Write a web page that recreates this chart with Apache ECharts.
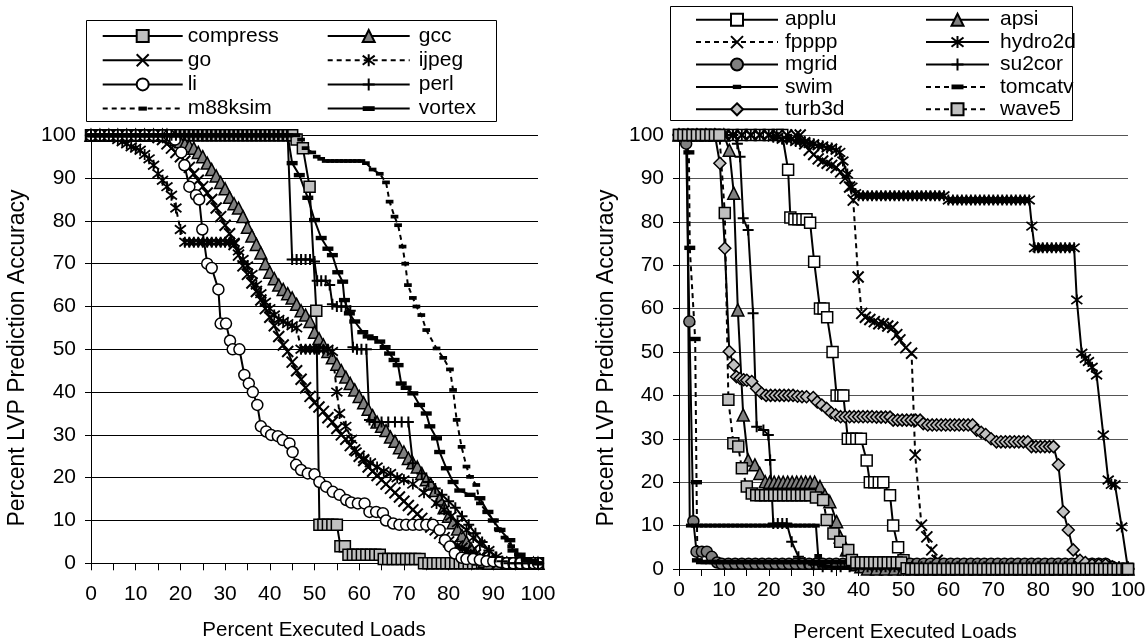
<!DOCTYPE html>
<html><head><meta charset="utf-8">
<script src="https://cdn.jsdelivr.net/npm/echarts@6/dist/echarts.min.js"></script>
<style>html,body{margin:0;padding:0;background:#fff}#c{width:1146px;height:642px}</style>
</head><body><div id="c"></div>
<script>
const FONT = "'Liberation Sans', Arial, Helvetica, sans-serif";
const xTickLabels = [0,10,20,30,40,50,60,70,80,90,100];
const yTickLabels = [0,10,20,30,40,50,60,70,80,90,100];

// ---------- left chart (integer benchmarks) ----------
const compress = [[0,100],[1,100],[2,100],[3,100],[4,100],[5,100],[6,100],[7,100],[8,100],[9,100],[10,100],[11,100],[12,100],[13,100],[14,100],[15,100],[16,100],[17,100],[18,100],[19,100],[20,100],[21,100],[22,100],[23,100],[24,100],[25,100],[26,100],[27,100],[28,100],[29,100],[30,100],[31,100],[32,100],[33,100],[34,100],[35,100],[36,100],[37,100],[38,100],[39,100],[40,100],[41,100],[42,100],[43,100],[44,100],[45,100],[46,99],[47.4,97],[48.9,88],[50.4,59],[51.1,9],[52,9],[53,9],[54,9],[55,9],[55.8,4],[56.8,4],[57.6,2],[58.6,2],[59.6,2],[60.6,2],[61.6,2],[62.6,2],[63.6,2],[64.6,2],[65.5,1],[66.5,1],[67.5,1],[68.5,1],[69.5,1],[70.5,1],[71.5,1],[72.5,1],[73.5,1],[74.5,0],[75.5,0],[76.5,0],[77.5,0],[78.5,0],[79.5,0],[80.5,0],[81.5,0],[82.5,0],[83.5,0],[84.5,0],[85.5,0],[86.5,0],[87.5,0],[88.5,0],[89.5,0],[90.5,0],[91.5,0],[92.5,0],[93.5,0],[94.5,0],[95.5,0],[96.5,0],[97.5,0],[98.5,0],[99.5,0],[100,0]];
const gcc = [[0,100],[2,100],[4,100],[6,100],[8,100],[10,100],[12,100],[14,100],[16,100],[17,100],[18,99.5],[19,99],[20,98.5],[21,98],[22,97.5],[23,97],[24,96],[25,95],[26,93.5],[27,92],[28,90.5],[29,89],[30,87.5],[31,85.5],[32,84],[33,83],[34,81],[35,78.5],[36,76.5],[37,74.5],[38,72.5],[39,70],[40,68],[41,66.5],[42,65],[43,64],[44,63],[45,62],[46,60.5],[47,59],[48,58],[49,56.5],[50,54],[51,52.5],[52,51],[53,49.5],[54,48],[55,46.5],[56,45],[57,43.5],[58,42],[59,40.5],[60,39],[61,37.5],[62,36],[63,34.5],[64,33],[65,32],[66,31],[67,29.5],[68,28.5],[69,27],[70,26],[71,24.5],[72,23.5],[73,22.5],[74,21],[75,19.5],[76,18.5],[77,17],[78,15],[79,13],[80,11],[81,9.5],[82,8],[83,6.5],[84,5],[85,3.5],[86,2],[87,1],[88,0.5],[89,0],[91,0],[93,0],[95,0],[97,0],[99,0],[100,0]];
const go = [[0,100],[2,100],[4,100],[6,100],[8,100],[10,100],[12,100],[14,100],[15,99.5],[16,99],[17,98],[18,97],[19,96],[20,95],[21,94],[22,92.5],[23,91],[24,89.5],[25,88],[26,86.5],[27,85],[28,83],[29,81],[30,79],[31,77],[32,74.5],[33,72],[34,69.5],[35,67.5],[36,65.5],[37,63.5],[38,61.5],[39,59.5],[40,57.5],[41,55.5],[42,53],[43,51],[44,49.5],[45,47],[46,45],[47,43],[48,41],[49,39],[50,37.5],[51,36.5],[52,35.5],[53,34],[54,33],[55,31.5],[56,30],[57,29],[58,27.5],[59,26.5],[60,25],[61,24],[62,22.5],[63,21.5],[64,20.5],[65,19.5],[66,18.5],[67,17.5],[68,16.5],[69,15.5],[70,14.5],[71,13.5],[72,12.5],[73,11.5],[74,10.5],[75,9.5],[76,8.5],[77,7.8],[78,7],[79,6],[80,5],[81,4.5],[82,4],[83,3.5],[84,3],[85,2.5],[86,2],[87,1.5],[88,1],[89,0.8],[90,0.5],[91,0],[93,0],[95,0],[97,0],[99,0],[100,0]];
const ijpeg = [[0,100],[2,100],[4,100],[5,100],[6,99],[7,98.5],[8,98],[9,97.3],[10,97],[11,96.5],[12,95.5],[13,94.5],[14,93],[15,91],[16,89.5],[17,88],[18,86],[19,83],[20,78],[21,75],[22,75],[23,75],[24,75],[25,75],[26,75],[27,75],[28,75],[29,75],[30,75],[31,75],[32,75],[33,73],[34,71],[35,69.5],[36,67.5],[37,65],[38,63],[39,61],[40,59.5],[41,58],[42,57],[43,56.5],[44,56],[45,55.5],[46,55],[47,50],[48,50],[49,50],[50,50],[51,50],[52,50],[53,50],[54,49.5],[55,40],[55.6,35],[57,32],[58.3,29],[59.3,26],[61,24.5],[62.5,23.5],[64,22.5],[65.5,21.5],[67,21],[68.5,20],[70,19.5],[72,18.5],[74.5,16.5],[77.3,14],[79,12.5],[80.5,11],[82,9.5],[84,7.8],[85.5,6],[87,4.5],[89,3],[90.7,1.5],[92,0.5],[93,0],[95,0],[97,0],[99,0],[100,0]];
const li = [[0,100],[2,100],[4,100],[6,100],[8,100],[10,100],[12,100],[14,100],[16,100],[17.5,100],[18.8,99],[20.2,96],[20.9,93],[22,88],[23.5,86],[24.2,85],[24.9,78],[26,70],[27,69],[28.5,64],[29,56],[30.2,56],[31.1,52],[31.7,50],[33.2,50],[34.3,44],[35.3,42],[36.2,40],[37.2,37],[38,32],[39.2,30.8],[40.3,30],[41.8,29.7],[42.9,28.8],[44.4,28],[45.1,26],[45.9,23],[47,21.8],[48.5,21],[50,20.8],[51.1,19],[52.6,17.9],[54.1,16.7],[55.6,16],[57.1,14.8],[58.2,14.2],[59.7,14],[61.2,14],[62.3,12],[63.8,12],[65.3,11.7],[66,10],[67.6,9.3],[69,9],[70.5,9],[72,9],[73.5,9],[75,9],[76.5,9],[78,7.8],[79.2,5.4],[80.3,3.9],[81.4,2.3],[82.9,1.3],[84,1],[85.5,1],[87,0.8],[88.5,0.5],[90,0.5],[91.5,0.3],[93,0],[94.5,0],[96,0],[97.5,0],[99,0],[100,0]];
const perl = [[0,100],[1,100],[2,100],[3,100],[4,100],[5,100],[6,100],[7,100],[8,100],[9,100],[10,100],[11,100],[12,100],[13,100],[14,100],[15,100],[16,100],[17,100],[18,100],[19,100],[20,100],[21,100],[22,100],[23,100],[24,100],[25,100],[26,100],[27,100],[28,100],[29,100],[30,100],[31,100],[32,100],[33,100],[34,100],[35,100],[36,100],[37,100],[38,100],[39,100],[40,100],[41,100],[42,100],[43,100],[44,100],[45,71],[46,71],[47,71],[48,71],[49,71],[50,70.5],[50.6,66],[51.5,66],[52.5,66],[53.4,65],[54,60.5],[55,60],[56,60],[57,60],[58,59],[58.6,50.5],[59.5,50],[60.5,50],[61.6,50],[62.3,33.5],[63.5,33],[65,33],[66.5,33],[68,33],[69.5,33],[71,33],[72,23.4],[74,21],[75.5,19],[77,17.5],[78.5,16],[80,14.5],[81.5,13],[83,11],[84.5,9],[86,7],[87.5,5],[89,3],[90.5,1.5],[92,0.5],[93.5,0],[95,0],[96.5,0],[98,0],[100,0]];
const m88ksim = [[0,100],[2,100],[4,100],[6,100],[8,100],[10,100],[12,100],[14,100],[16,100],[18,100],[20,100],[22,100],[24,100],[26,100],[28,100],[30,100],[32,100],[34,100],[36,100],[38,100],[40,100],[42,100],[44,100],[46,100],[47,99],[48,97],[49.5,96],[50.5,95],[51.5,94.5],[52.5,94],[53.5,94],[54.5,94],[55.5,94],[56.5,94],[57.5,94],[58.5,94],[59.5,94],[60.5,94],[61.5,93.5],[63,92],[64.6,91],[66,89],[66.8,84.5],[67.9,81],[68.7,79],[69.7,74],[70.3,70],[70.9,65],[72,62],[72.8,60],[73.9,58],[75,54.5],[77.3,50.2],[78.8,48],[80.3,45.3],[81,40.5],[81.8,33.5],[82.9,27.2],[84,22.6],[84.8,20.2],[86.2,18.3],[87,14],[88.5,12],[90,10],[91,8],[92.5,6],[94,4],[95.5,2],[97,1],[98.5,0.5],[100,0]];
const vortex = [[0,100],[1,100],[2,100],[3,100],[4,100],[5,100],[6,100],[7,100],[8,100],[9,100],[10,100],[11,100],[12,100],[13,100],[14,100],[15,100],[16,100],[17,100],[18,100],[19,100],[20,100],[21,100],[22,100],[23,100],[24,100],[25,100],[26,100],[27,100],[28,100],[29,100],[30,100],[31,100],[32,100],[33,100],[34,100],[35,100],[36,100],[37,100],[38,100],[39,100],[40,100],[41,100],[42,100],[43,100],[44,100],[45,93.5],[46.6,90.7],[48.5,85.4],[50,80.2],[51.5,76],[53,73.5],[54,72],[55.2,68],[56.3,65.8],[56.7,61.5],[57.8,58.4],[59,56.5],[60.8,54],[62,53],[63,52.6],[64.6,51.8],[65.8,50.5],[66.8,49],[67.8,47.5],[68.7,46.3],[69.4,42],[70.5,41],[72,39.7],[73.5,37],[75,35],[75.8,32],[77.3,29.2],[78,26],[79.5,22.2],[81,19],[82.5,17],[84.8,16],[87,15.2],[88.8,12],[90,10],[91.5,7.8],[93.7,5.4],[94.4,3],[96,2],[97.5,0.8],[99,0.5],[100,0]];

// ---------- right chart (floating point benchmarks) ----------
const applu = [[0,100],[2,100],[4,100],[6,100],[8,100],[10,100],[12,100],[14,100],[16,100],[18,100],[20,100],[22,100],[23,100],[24.3,92],[24.8,81],[25.7,80.6],[26.6,80.6],[27.5,80.6],[28.4,80.6],[29.2,79.8],[30.1,70.8],[31.4,60],[32.2,60],[33,58],[34.2,50],[35.1,40],[36,40],[36.6,40],[37.6,30],[38.5,30],[39.5,30],[40.5,30],[41.8,25],[42.5,20],[43.5,20],[44.5,20],[45.5,20],[47,17],[47.7,10],[48.8,5],[50,2],[51,1],[52,0.5],[54,0],[56,0],[58,0],[60,0],[62,0],[64,0],[66,0],[68,0],[70,0],[72,0],[74,0],[76,0],[78,0],[80,0],[82,0],[84,0],[86,0],[88,0],[90,0],[92,0],[94,0],[96,0],[98,0],[100,0]];
const apsi = [[0,100],[2,100],[4,100],[6,100],[8,100],[10,100],[11.2,96.5],[12.2,86.6],[13.1,59.7],[14.3,35.5],[15.4,25.1],[16.9,24],[18,22],[19.2,20.1],[20.2,20],[21.2,20],[22.2,20],[23.2,20],[24.2,20],[25.2,20],[26.2,20],[27.2,20],[28.2,20],[29.2,20],[30.2,20],[31.4,19],[32.5,17],[33.6,15.5],[35.1,10.9],[35.9,7.4],[37.3,4.4],[38.5,2],[39.5,1],[40.5,0.5],[42,0],[44,0],[46,0],[48,0],[50,0],[52,0],[54,0],[56,0],[58,0],[60,0],[62,0],[64,0],[66,0],[68,0],[70,0],[72,0],[74,0],[76,0],[78,0],[80,0],[82,0],[84,0],[86,0],[88,0],[90,0],[92,0],[94,0],[96,0],[98,0],[100,0]];
const fpppp = [[0,100],[2,100],[4,100],[6,100],[8,100],[10,100],[12,100],[14,100],[16,100],[18,100],[20,100],[22,100],[24,100],[26,100],[27,100],[28,98],[29,96.5],[30,95.5],[31,94.5],[32,94],[33,93.5],[34,93],[35,92.5],[36,91.5],[37,90],[38,88],[38.8,85],[39.9,67.3],[40.7,58.9],[41.5,58],[42.5,57.5],[43.5,57],[44.5,56.5],[45.5,56.5],[46.5,56],[47.6,55.7],[48.5,54],[49.2,52.8],[50.5,51],[51.8,49.7],[52.6,26.3],[54,10.1],[55.2,7.4],[56.3,4.4],[57.5,2],[59,1],[60.5,0],[62,0],[64,0],[66,0],[68,0],[70,0],[72,0],[74,0],[76,0],[78,0],[80,0],[82,0],[84,0],[86,0],[88,0],[90,0],[92,0],[94,0],[96,0],[98,0],[100,0]];
const hydro2d = [[0,100],[2,100],[4,100],[6,100],[8,100],[10,100],[12,100],[14,100],[16,100],[18,100],[20,100],[21,99.5],[22,99.5],[23,99],[24,99],[25,99],[26,98.5],[27,98.5],[28,98.5],[29,98],[30,98],[31,97.5],[32,97.5],[33,97],[34,97],[35,96.5],[35.8,96],[36.5,94],[37.5,91],[38.5,88],[39.3,86.5],[40,86],[41,86],[42,86],[43,86],[44,86],[45,86],[46,86],[47,86],[48,86],[49,86],[50,86],[51,86],[52,86],[53,86],[54,86],[55,86],[56,86],[57,86],[58,86],[59,86],[60,85],[61,85],[62,85],[63,85],[64,85],[65,85],[66,85],[67,85],[68,85],[69,85],[70,85],[71,85],[72,85],[73,85],[74,85],[75,85],[76,85],[77,85],[78,85],[78.6,79],[79.2,74],[80,74],[81,74],[82,74],[83,74],[84,74],[85,74],[86,74],[87,74],[88,74],[88.6,62],[89.7,49.7],[90.5,48.5],[91.2,47.8],[92,46.5],[93,44.7],[94.5,30.9],[95.6,20.5],[96.3,19.5],[97.1,19.4],[98.6,9.7],[100,0]];
const mgrid = [[0,100],[1,100],[1.6,98],[2.3,57],[3.2,11],[3.9,4],[5.1,4],[6.2,4],[7.3,2.8],[8.5,1.5],[9.5,1.2],[11,1.2],[12.5,1.2],[14,1.2],[15.5,1.2],[17,1.2],[18.5,1.2],[20,1.2],[21.5,1.2],[23,1.2],[24.5,1.2],[26,1.2],[27.5,1.2],[29,1.2],[30.5,1.2],[32,1.2],[33.5,1.2],[35,1.2],[36.5,1.2],[38,1.2],[39.5,1.2],[41,1.2],[42.5,1.2],[44,1.2],[45.5,1.2],[47,1.2],[48.5,1.2],[50,1.2],[51.5,1.2],[53,1.2],[54.5,1.2],[56,1.2],[57.5,1.2],[59,1.2],[60.5,1.2],[62,1.2],[63.5,1.2],[65,1.2],[66.5,1.2],[68,1.2],[69.5,1.2],[71,1.2],[72.5,1.2],[74,1.2],[75.5,1.2],[77,1.2],[78.5,1.2],[80,1.2],[81.5,1.2],[83,1.2],[84.5,1.2],[86,1.2],[87.5,1.2],[89,1.2],[90.5,1.2],[92,1.2],[93.5,1.2],[95,1.2],[96.5,0.5],[98,0],[100,0]];
const su2cor = [[0,100],[2,100],[4,100],[6,100],[8,100],[10,100],[12,100],[13,98],[13.6,95],[14.3,80.8],[15.4,78.1],[16.5,58.9],[17.3,32.8],[18.8,32],[19.9,30.9],[20.3,25.1],[21,10.5],[22,10.5],[23,10.5],[24,10.5],[25.1,6.3],[26.6,2.8],[28,1.5],[30,1],[32,0.5],[34,0.5],[36,0.5],[38,0.5],[40,0.5],[42,0.5],[44,0.5],[46,0.5],[48,0.5],[50,0.5],[52,0.5],[54,0.5],[56,0.5],[58,0.5],[60,0.5],[62,0.5],[64,0.5],[66,0.5],[68,0.5],[70,0.5],[72,0.5],[74,0.5],[76,0.5],[78,0.5],[80,0.5],[82,0.5],[84,0.5],[86,0.5],[88,0.5],[90,0.5],[92,0.5],[94,0.5],[96,0.5],[98,0.5],[100,0.5]];
const swim = [[0,100],[1,100],[1.8,99],[2.4,10],[3.5,10],[4.5,10],[5.5,10],[6.5,10],[7.5,10],[8.5,10],[9.5,10],[10.5,10],[11.5,10],[12.5,10],[13.5,10],[14.5,10],[15.5,10],[16.5,10],[17.5,10],[18.5,10],[19.5,10],[20.5,10],[21.5,10],[22.5,10],[23.5,10],[24.5,10],[25.5,10],[26.5,10],[27.5,10],[28.5,10],[29.5,10],[30.5,10],[31,3],[32,1],[33,0.5],[35,0.3],[37,0.3],[39,0.3],[41,0.3],[43,0.3],[45,0.3],[47,0.3],[49,0.3],[51,0.3],[53,0.3],[55,0.3],[57,0.3],[59,0.3],[61,0.3],[63,0.3],[65,0.3],[67,0.3],[69,0.3],[71,0.3],[73,0.3],[75,0.3],[77,0.3],[79,0.3],[81,0.3],[83,0.3],[85,0.3],[87,0.3],[89,0.3],[91,0.3],[93,0.3],[95,0.3],[97,0.3],[99,0.3],[100,0.3]];
const tomcatv = [[0,100],[1,99.5],[2.2,96],[2.4,74],[3.6,53],[3.9,20],[4.1,2],[5,1.6],[6,1.6],[7,1.6],[8,1.6],[9,1.6],[10,1.6],[11,1.6],[12,1.6],[13,1.6],[14,1.6],[15,1.6],[16,1.6],[17,1.6],[18,1.6],[19,1.6],[20,1.6],[21,1.6],[22,1.6],[23,1.6],[24,1.6],[25,1.6],[26,1.6],[27,1.6],[28,1.6],[29,1.6],[30,1.6],[31,1.6],[32,1.6],[33,1.6],[34,1.6],[35,1.6],[36,1.6],[37,1.6],[38,1.6],[39,1.6],[40,1.5],[42,0.5],[44,0.5],[46,0.5],[48,0.5],[50,0.5],[52,0.5],[54,0.5],[56,0.5],[58,0.5],[60,0.5],[62,0.5],[64,0.5],[66,0.5],[68,0.5],[70,0.5],[72,0.5],[74,0.5],[76,0.5],[78,0.5],[80,0.5],[82,0.5],[84,0.5],[86,0.5],[88,0.5],[90,0.5],[92,0.5],[94,0.5],[96,0.5],[98,0.5],[100,0.5]];
const turb3d = [[0,100],[2,100],[4,100],[6,100],[8,100],[9.1,93.5],[10.2,73.9],[11.2,50.1],[12.2,47],[12.8,44.3],[13.6,43.9],[14.4,43.6],[15.1,43.5],[16.2,43.2],[17.3,41.6],[18.4,40.5],[19.4,40],[20.4,40],[21.4,40],[22.4,40],[23.4,40],[24.4,40],[25.4,40],[26.4,39.8],[27.4,39.7],[28.4,39.7],[29.9,39.5],[30.8,38.5],[31.8,37.8],[32.9,37],[33.9,36],[34.9,35.5],[36,35.1],[37,35.1],[38,35.1],[39,35.1],[40,35.1],[41,35.1],[42,35.1],[43,35.1],[44,35],[45,35],[46,35],[47,35],[47.7,34.3],[48.7,34.3],[49.7,34.3],[50.7,34.3],[51.7,34.3],[52.7,34.3],[53.7,34.3],[54.4,33.5],[55.4,33.2],[56.4,33.2],[57.4,33.2],[58.4,33.2],[59.4,33.2],[60.4,33.2],[61.4,33.2],[62.4,33.2],[63.4,33.2],[64.4,33.2],[65.4,33.2],[66.3,32],[67.3,31.5],[68.3,31],[69.5,30],[70.7,29.3],[71.7,29.3],[72.7,29.3],[73.7,29.3],[74.7,29.3],[75.7,29.3],[76.7,29.3],[77.7,29.3],[78.5,28.2],[79.5,28.2],[80.5,28.2],[81.5,28.2],[82.5,28.2],[83.4,28.2],[84.5,24],[85.6,13.2],[86.7,9],[87.8,4.4],[89.3,2],[90.5,1.5],[92,1],[93.5,1],[95,1],[96.5,0.5],[98,0],[100,0]];
const wave5 = [[0,100],[1,100],[2,100],[3,100],[4,100],[5,100],[6,100],[7,100],[8,100],[9,100],[10.2,82],[11,39],[12.1,29],[13.2,28.2],[14,23.2],[15.1,19],[16.2,17.4],[17.2,17],[18.2,17],[19.2,17],[20.2,17],[21.2,17],[22.2,17],[23.2,17],[24.2,17],[25.2,17],[26.2,17],[27.2,17],[28.2,17],[29.2,17],[30.5,16.5],[32.1,15.9],[32.9,11.3],[34.4,8.2],[35.9,6.3],[37.7,4.4],[38.5,2.1],[39.5,1.5],[40.5,1.5],[41.5,1.5],[42.5,1.5],[43.5,1.5],[44.5,1.5],[45.5,1.5],[46.5,1.5],[47.5,1.5],[48.5,1.5],[49.5,1.5],[50.7,0.2],[51.7,0],[52.7,0],[53.7,0],[54.7,0],[55.7,0],[56.7,0],[57.7,0],[58.7,0],[59.7,0],[60.7,0],[61.7,0],[62.7,0],[63.7,0],[64.7,0],[65.7,0],[66.7,0],[67.7,0],[68.7,0],[69.7,0],[70.7,0],[71.7,0],[72.7,0],[73.7,0],[74.7,0],[75.7,0],[76.7,0],[77.7,0],[78.7,0],[79.7,0],[80.7,0],[81.7,0],[82.7,0],[83.7,0],[84.7,0],[85.7,0],[86.7,0],[87.7,0],[88.7,0],[89.7,0],[90.7,0],[91.7,0],[92.7,0],[93.7,0],[94.7,0],[95.7,0],[96.7,0],[97.7,0],[98.7,0],[99.7,0],[100,0]];

// ---------- drawing ----------
const SYM = {
  sq: 'rect', tri: 'triangle', cir: 'circle', dia: 'diamond',
  x: 'path://M0,0L10,10M10,0L0,10',
  ast: 'path://M0,0L10,10M10,0L0,10M5,-1.5L5,11.5',
  plus: 'path://M5,-0.5L5,10.5M0,5L10,5',
  dashL: 'path://M0,0M10,10M0,3h10v4h-10z',
  dashS: 'path://M0,0M10,10M1.5,3.3h7v3.4h-7z',
  dashT: 'path://M0,0M10,10M1.5,3.2h7v3.6h-7z'
};
function mk(name, data, g, sym, fill, dashed, size, bw) {
  return {
    type: 'line', name: name, data: data, xAxisIndex: g, yAxisIndex: g,
    symbol: SYM[sym], symbolSize: size || 11, showSymbol: true, clip: false,
    silent: true, animation: false, emphasis: { disabled: true },
    lineStyle: { color: '#000', width: 2, type: dashed ? [5, 4] : 'solid' },
    itemStyle: { color: fill, borderColor: '#000', borderWidth: bw === undefined ? 1.5 : bw }
  };
}
const series = [
  mk('compress', compress, 0, 'sq', '#c0c0c0', false, 11),
  mk('gcc', gcc, 0, 'tri', '#808080', false, 12),
  mk('go', go, 0, 'x', '#000', false, 11, 2),
  mk('ijpeg', ijpeg, 0, 'ast', '#000', true, 11, 1.8),
  mk('li', li, 0, 'cir', '#fff', false, 11),
  mk('perl', perl, 0, 'plus', '#000', false, 11, 2),
  mk('m88ksim', m88ksim, 0, 'dashS', '#000', true, 11, 0),
  mk('vortex', vortex, 0, 'dashL', '#000', false, 11, 0),
  mk('applu', applu, 1, 'sq', '#fff', false, 11),
  mk('apsi', apsi, 1, 'tri', '#808080', false, 12),
  mk('fpppp', fpppp, 1, 'x', '#000', true, 11, 2),
  mk('hydro2d', hydro2d, 1, 'ast', '#000', false, 11, 1.8),
  mk('mgrid', mgrid, 1, 'cir', '#808080', false, 11),
  mk('su2cor', su2cor, 1, 'plus', '#000', false, 11, 2),
  mk('swim', swim, 1, 'dashT', '#000', false, 11, 0),
  mk('tomcatv', tomcatv, 1, 'dashL', '#000', true, 11, 0),
  mk('turb3d', turb3d, 1, 'dia', '#c0c0c0', false, 12),
  mk('wave5', wave5, 1, 'sq', '#c0c0c0', true, 11)
];

function xAxis(g, margin) {
  return {
    gridIndex: g, type: 'value', min: 0, max: 100, interval: 5,
    axisLine: { show: true, lineStyle: { color: '#000', width: 1 } },
    axisTick: { show: true, inside: false, length: 7, lineStyle: { color: '#000', width: 1 } },
    splitLine: { show: false },
    axisLabel: { margin: margin, fontSize: 21, fontFamily: FONT, color: '#000',
      formatter: function (v) { return xTickLabels.indexOf(v) >= 0 ? String(v) : ''; } }
  };
}
function yAxis(g, gridColor) {
  return {
    gridIndex: g, type: 'value', min: 0, max: 100, interval: 10,
    axisLine: { show: true, lineStyle: { color: '#000', width: 1 } },
    axisTick: { show: true, inside: false, length: 6, lineStyle: { color: '#000', width: 1 } },
    splitLine: { show: true, lineStyle: { color: gridColor, width: 1 } },
    axisLabel: { margin: 15, fontSize: 21, fontFamily: FONT, color: '#000',
      formatter: function (v) { return yTickLabels.indexOf(v) >= 0 ? String(v) : ''; } }
  };
}
function legend(names, left, top, w, gap, pad) {
  return {
    orient: 'vertical', left: left, top: top, padding: 0, itemGap: gap,
    itemWidth: w, itemHeight: 15, selectedMode: false, data: names,
    textStyle: { fontSize: 21, fontFamily: FONT, color: '#000', lineHeight: 22, padding: [0, 0, 0, pad] }
  };
}
function label(text, x, y, rot, size) {
  return { type: 'text', x: x, y: y, rotation: rot, silent: true,
    style: { text: text, fill: '#000', fontSize: size, fontFamily: FONT,
      align: 'center', verticalAlign: 'middle', textAlign: 'center', textVerticalAlign: 'middle' } };
}

const chart = echarts.init(document.getElementById('c'), null, { renderer: 'canvas' });
chart.setOption({
  animation: false,
  backgroundColor: '#fff',
  textStyle: { fontFamily: FONT },
  grid: [
    { left: 91, top: 135.3, width: 447, height: 428, outerBoundsMode: 'none', containLabel: false },
    { left: 679, top: 135, width: 449, height: 434, outerBoundsMode: 'none', containLabel: false }
  ],
  xAxis: [xAxis(0, 20), xAxis(1, 11)],
  yAxis: [yAxis(0, '#000'), yAxis(1, '#555')],
  legend: [
    legend(['compress', 'go', 'li', 'm88ksim'], 101.7, 25, 80, 2.2, 0),
    legend(['gcc', 'ijpeg', 'perl', 'vortex'], 326.7, 25, 82, 2.2, 4),
    legend(['applu', 'fpppp', 'mgrid', 'swim', 'turb3d'], 695, 8.7, 82, 0.4, 2),
    legend(['apsi', 'hydro2d', 'su2cor', 'tomcatv', 'wave5'], 925, 8.7, 63, 0.4, 6)
  ],
  graphic: [
    { type: 'rect', silent: true, shape: { x: 86.5, y: 20.5, width: 410, height: 101 }, style: { fill: 'none', stroke: '#000', lineWidth: 1 } },
    { type: 'rect', silent: true, shape: { x: 670.5, y: 6.5, width: 402, height: 114 }, style: { fill: 'none', stroke: '#000', lineWidth: 1 } },
    label('Percent LVP Prediction Accuracy', 18, 358, Math.PI / 2, 23),
    label('Precent LVP Prediction Accuracy', 607, 358, Math.PI / 2, 23),
    label('Percent Executed Loads', 314, 630, 0, 20.5),
    label('Percent Executed Loads', 905, 632, 0, 20.5)
  ],
  series: series
});
</script>
</body></html>
